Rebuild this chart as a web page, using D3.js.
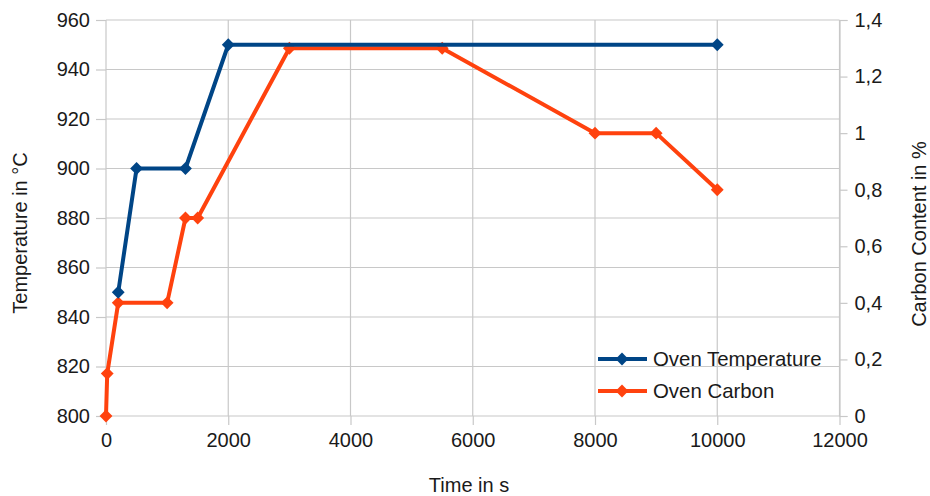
<!DOCTYPE html>
<html>
<head>
<meta charset="utf-8">
<script src="https://cdn.jsdelivr.net/npm/d3@7"></script>
<style>
html,body{margin:0;padding:0;background:#fff;}
text{font-family:"Liberation Sans",Arial,sans-serif;fill:#1a1a1a;}
</style>
</head>
<body>
<svg id="chart" width="930" height="496"></svg>
<script>
// Data
const timeTemp = [200, 500, 1300, 2000, 10000];
const ovenTemp = [850, 900, 900, 950, 950];
const timeCarbon = [0, 20, 200, 1000, 1300, 1500, 3000, 5500, 8000, 9000, 10000];
const ovenCarbon = [0, 0.15, 0.4, 0.4, 0.7, 0.7, 1.3, 1.3, 1.0, 1.0, 0.8];
const xTicks = [0, 2000, 4000, 6000, 8000, 10000, 12000];
const leftTicks = [800, 820, 840, 860, 880, 900, 920, 940, 960];
const rightTicks = [0, 0.2, 0.4, 0.6, 0.8, 1, 1.2, 1.4];
const seriesNames = ["Oven Temperature", "Oven Carbon"];
const colors = ["#004586", "#ff420e"];

const svg = d3.select("#chart");
const m = {left: 106, right: 839.5, top: 20, bottom: 416};
const x = d3.scaleLinear().domain([0, 12000]).range([m.left, m.right]);
const yL = d3.scaleLinear().domain([800, 960]).range([m.bottom, m.top]);
const yR = d3.scaleLinear().domain([0, 1.4]).range([m.bottom, m.top]);
const fs = "20px";
const grid = "#c8c8c8";

// grid
svg.append("g").selectAll("line").data(leftTicks).join("line")
  .attr("x1", m.left).attr("x2", m.right)
  .attr("y1", d => yL(d)).attr("y2", d => yL(d))
  .attr("stroke", grid).attr("stroke-width", 1.2);
svg.append("g").selectAll("line").data(xTicks).join("line")
  .attr("x1", d => x(d)).attr("x2", d => x(d))
  .attr("y1", m.top).attr("y2", m.bottom)
  .attr("stroke", grid).attr("stroke-width", 1.2);

// axes
const xAxis = svg.append("g").attr("transform", `translate(0,${m.bottom})`)
  .call(d3.axisBottom(x).tickValues(xTicks).tickFormat(d3.format("d")).tickSize(9).tickPadding(8));
const lAxis = svg.append("g").attr("transform", `translate(${m.left},0)`)
  .call(d3.axisLeft(yL).tickValues(leftTicks).tickFormat(d3.format("d")).tickSize(10).tickPadding(6));
const rAxis = svg.append("g").attr("transform", `translate(${m.right},0)`)
  .call(d3.axisRight(yR).tickValues(rightTicks).tickFormat(d => String(d).replace(".", ",")).tickSize(8).tickPadding(7));
[xAxis, lAxis, rAxis].forEach(a => {
  a.select(".domain").attr("stroke", grid).attr("stroke-width", 1.2);
  a.selectAll(".tick line").attr("stroke", grid).attr("stroke-width", 1.2);
  a.selectAll(".tick text").style("font-size", fs).attr("fill", "#1a1a1a")
    .style("font-family", '"Liberation Sans",Arial,sans-serif');
});
xAxis.select(".domain").remove();
lAxis.select(".domain").remove();

// lines
const diamond = d3.symbol().type(d3.symbolDiamond2).size(105);
function drawSeries(xs, ys, yScale, color) {
  const pts = xs.map((v, i) => [x(v), yScale(ys[i])]);
  svg.append("path").datum(pts)
    .attr("d", d3.line())
    .attr("fill", "none").attr("stroke", color).attr("stroke-width", 4)
    .attr("stroke-linejoin", "round");
  svg.append("g").selectAll("path").data(pts).join("path")
    .attr("transform", d => `translate(${d[0]},${d[1]})`)
    .attr("d", diamond).attr("fill", color);
}
drawSeries(timeCarbon, ovenCarbon, yR, colors[1]);
drawSeries(timeTemp, ovenTemp, yL, colors[0]);

// legend
const lg = svg.append("g");
seriesNames.forEach((name, i) => {
  const cy = 359 + i * 32;
  lg.append("line").attr("x1", 598).attr("x2", 647).attr("y1", cy).attr("y2", cy)
    .attr("stroke", colors[i]).attr("stroke-width", 4);
  lg.append("path").attr("transform", `translate(622,${cy})`).attr("d", diamond).attr("fill", colors[i]);
  lg.append("text").attr("x", 653).attr("y", cy).attr("dy", "0.35em")
    .style("font-size", "20.4px").text(name);
});

// axis titles
svg.append("text").attr("transform", "translate(20,233) rotate(-90)")
  .attr("text-anchor", "middle").attr("dy", "0.35em").style("font-size", "20px")
  .text("Temperature in °C");
svg.append("text").attr("transform", "translate(919,234) rotate(-90)")
  .attr("text-anchor", "middle").attr("dy", "0.35em").style("font-size", "20px")
  .text("Carbon Content in %");
svg.append("text").attr("x", 469).attr("y", 485).attr("dy", "0.35em")
  .attr("text-anchor", "middle").style("font-size", "20px").text("Time in s");
</script>
</body>
</html>
